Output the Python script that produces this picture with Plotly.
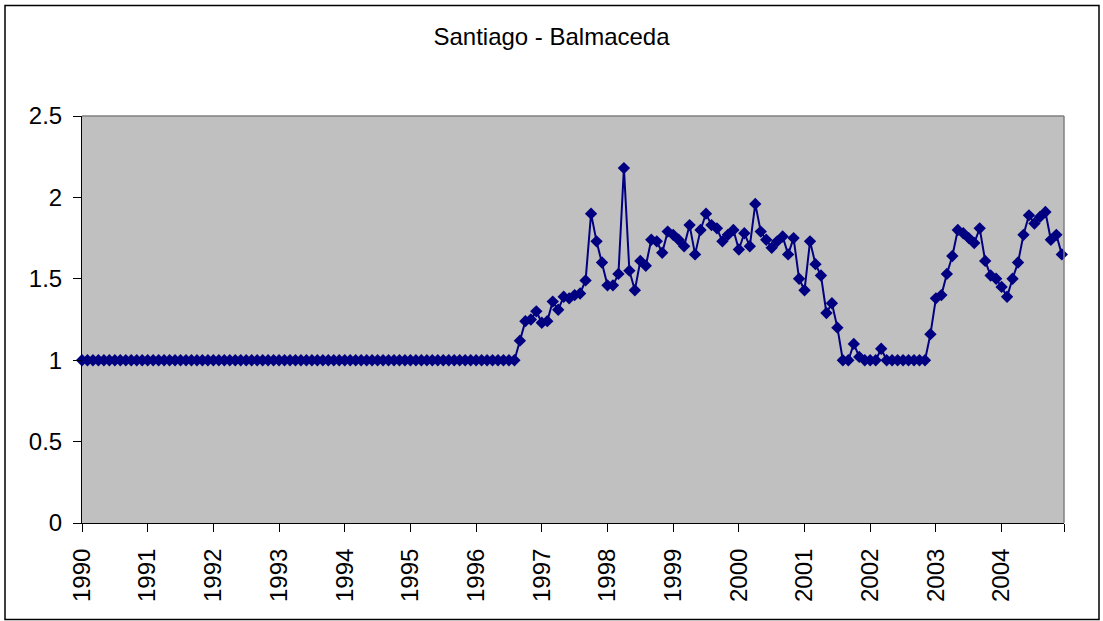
import plotly.graph_objects as go

title_text = "Santiago - Balmaceda"
years = ["1990", "1991", "1992", "1993", "1994", "1995", "1996", "1997",
         "1998", "1999", "2000", "2001", "2002", "2003", "2004"]

# monthly values, one row per year (Jan..Dec)
values_1990 = [1.0, 1.0, 1.0, 1.0, 1.0, 1.0, 1.0, 1.0, 1.0, 1.0, 1.0, 1.0]
values_1991 = [1.0, 1.0, 1.0, 1.0, 1.0, 1.0, 1.0, 1.0, 1.0, 1.0, 1.0, 1.0]
values_1992 = [1.0, 1.0, 1.0, 1.0, 1.0, 1.0, 1.0, 1.0, 1.0, 1.0, 1.0, 1.0]
values_1993 = [1.0, 1.0, 1.0, 1.0, 1.0, 1.0, 1.0, 1.0, 1.0, 1.0, 1.0, 1.0]
values_1994 = [1.0, 1.0, 1.0, 1.0, 1.0, 1.0, 1.0, 1.0, 1.0, 1.0, 1.0, 1.0]
values_1995 = [1.0, 1.0, 1.0, 1.0, 1.0, 1.0, 1.0, 1.0, 1.0, 1.0, 1.0, 1.0]
values_1996 = [1.0, 1.0, 1.0, 1.0, 1.0, 1.0, 1.0, 1.0, 1.12, 1.24, 1.25, 1.30]
values_1997 = [1.23, 1.24, 1.36, 1.31, 1.39, 1.38, 1.40, 1.41, 1.49, 1.90, 1.73, 1.60]
values_1998 = [1.46, 1.46, 1.53, 2.18, 1.55, 1.43, 1.61, 1.58, 1.74, 1.73, 1.66, 1.79]
values_1999 = [1.77, 1.74, 1.70, 1.83, 1.65, 1.80, 1.90, 1.83, 1.81, 1.73, 1.77, 1.80]
values_2000 = [1.68, 1.78, 1.70, 1.96, 1.79, 1.74, 1.69, 1.73, 1.76, 1.65, 1.75, 1.50]
values_2001 = [1.43, 1.73, 1.59, 1.52, 1.29, 1.35, 1.20, 1.00, 1.00, 1.10, 1.02, 1.00]
values_2002 = [1.00, 1.00, 1.07, 1.0, 1.0, 1.0, 1.0, 1.0, 1.0, 1.0, 1.0, 1.16]
values_2003 = [1.38, 1.40, 1.53, 1.64, 1.80, 1.78, 1.75, 1.72, 1.81, 1.61, 1.52, 1.50]
values_2004 = [1.45, 1.39, 1.50, 1.60, 1.77, 1.89, 1.84, 1.88, 1.91, 1.74, 1.77, 1.65]

values = (values_1990 + values_1991 + values_1992 + values_1993 + values_1994 +
          values_1995 + values_1996 + values_1997 + values_1998 + values_1999 +
          values_2000 + values_2001 + values_2002 + values_2003 + values_2004)
months = list(range(len(values)))

y_ticks = [0, 0.5, 1, 1.5, 2, 2.5]
y_ticktext = ["0", "0.5", "1", "1.5", "2", "2.5"]

FONT = "Liberation Sans, Arial, sans-serif"

fig = go.Figure()
fig.add_trace(go.Scatter(
    x=months, y=values, mode="lines+markers",
    line=dict(color="#000080", width=2),
    marker=dict(symbol="diamond", size=9.5, color="#000080", line=dict(width=0)),
    cliponaxis=False, showlegend=False, hoverinfo="skip",
))

x_end = 179.4
xtickvals = [i * 12 for i in range(len(years))] + [x_end]
xticktext = years + [""]

fig.update_layout(
    width=1103, height=621,
    margin=dict(l=82, r=39, t=116, b=98),
    paper_bgcolor="white", plot_bgcolor="#C0C0C0",
    font=dict(family=FONT, size=24, color="black"),
    title=dict(text=title_text, x=0.5, xanchor="center", y=1 - 37 / 621,
               yanchor="middle", font=dict(size=24, family=FONT, color="black")),
    xaxis=dict(range=[0, x_end], tickmode="array", tickvals=xtickvals,
               ticktext=xticktext, tickangle=-90, ticks="outside", ticklen=8,
               tickcolor="black", tickwidth=1, showgrid=False, zeroline=False,
               showline=True, linecolor="black", linewidth=1,
               tickfont=dict(size=24, family=FONT), ticklabelstandoff=7),
    yaxis=dict(range=[0, 2.5], tickmode="array", tickvals=y_ticks,
               ticktext=y_ticktext, ticks="outside", ticklen=8,
               tickcolor="black", tickwidth=1, showgrid=False, zeroline=False,
               showline=True, linecolor="black", linewidth=1,
               tickfont=dict(size=24, family=FONT), ticklabelstandoff=6),
    shapes=[
        # plot-area border (top and right in gray)
        dict(type="line", xref="paper", yref="paper", x0=0, x1=1, y0=1, y1=1,
             line=dict(color="#808080", width=1.5)),
        dict(type="line", xref="paper", yref="paper", x0=1, x1=1, y0=0, y1=1,
             line=dict(color="#808080", width=1.5)),
        # outer chart frame
        dict(type="rect", xref="paper", yref="paper",
             x0=(5 - 82) / 982, x1=(1099 - 82) / 982,
             y0=(523 - 619.5) / 407, y1=(523 - 5.5) / 407,
             line=dict(color="black", width=1.5), layer="below"),
    ],
)

fig.write_html("out.html",
               config={"displayModeBar": False},
               post_script="document.body.style.margin='0px';"
                           "document.body.style.overflow='hidden';")
